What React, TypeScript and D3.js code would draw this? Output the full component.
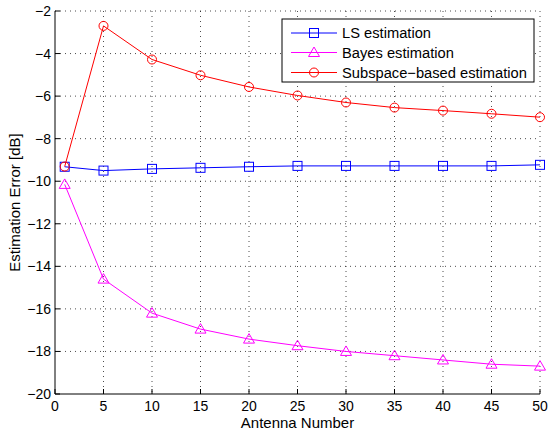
import React from "react";
import * as d3 from "d3";

const antennaNumbers = [1, 5, 10, 15, 20, 25, 30, 35, 40, 45, 50];
const lsValues = [-9.32, -9.5, -9.42, -9.37, -9.32, -9.28, -9.28, -9.28, -9.28, -9.28, -9.23];
const bayesValues = [-10.15, -14.6, -16.2, -16.95, -17.42, -17.73, -18.0, -18.2, -18.4, -18.6, -18.69];
const subspaceValues = [-9.31, -2.7, -4.28, -5.02, -5.57, -5.97, -6.3, -6.54, -6.68, -6.83, -6.99];

const xTicks = [0, 5, 10, 15, 20, 25, 30, 35, 40, 45, 50];
const yTicks = [-20, -18, -16, -14, -12, -10, -8, -6, -4, -2];

const seriesNames = ["LS estimation", "Bayes estimation", "Subspace\u2212based estimation"];
const seriesColors = ["#0000ff", "#ff00ff", "#ff0000"];
const seriesMarkers = ["square", "triangle", "circle"];
const seriesValues = [lsValues, bayesValues, subspaceValues];

const W = 551;
const H = 431;
const left = 55;
const right = 540;
const top = 11;
const bottom = 394;
const FONT = "'Liberation Sans', Arial, Helvetica, sans-serif";

function Marker({ kind, x, y, color }: { kind: string; x: number; y: number; color: string }) {
  if (kind === "square") {
    return <rect x={x - 4.5} y={y - 4.5} width={9} height={9} fill="none" stroke={color} strokeWidth={1} />;
  }
  if (kind === "triangle") {
    return (
      <path
        d={`M${x},${y - 5.5}L${x + 5.5},${y + 4}L${x - 5.5},${y + 4}Z`}
        fill="none"
        stroke={color}
        strokeWidth={1}
      />
    );
  }
  return <circle cx={x} cy={y} r={4.5} fill="none" stroke={color} strokeWidth={1} />;
}

const fmt = (v: number) => (v < 0 ? "\u2212" + Math.abs(v) : String(v));

export default function App() {
  const xScale = d3.scaleLinear().domain([0, 50]).range([left, right]);
  const yScale = d3.scaleLinear().domain([-20, -2]).range([bottom, top]);
  const line = d3
    .line<[number, number]>()
    .x((d) => xScale(d[0]))
    .y((d) => yScale(d[1]));

  const legX = 282;
  const legY = 19;
  const legW = 252;
  const legH = 63;
  const rowYs = [33, 52.5, 72.5];

  return (
    <svg
      width={W}
      height={H}
      style={{ position: "absolute", left: 0, top: 0, background: "#fff" }}
      fontFamily={FONT}
    >
      <rect x={0} y={0} width={W} height={H} fill="#fff" />
      {/* grid */}
      {xTicks
        .filter((t) => t !== 0)
        .map((t) => (
          <line
            key={"gx" + t}
            x1={xScale(t)}
            x2={xScale(t)}
            y1={top}
            y2={bottom}
            stroke="#000"
            strokeOpacity={0.7}
            strokeDasharray="1,4"
            strokeWidth={1}
          />
        ))}
      {yTicks
        .filter((t) => t !== -20)
        .map((t) => (
          <line
            key={"gy" + t}
            x1={left}
            x2={right}
            y1={yScale(t)}
            y2={yScale(t)}
            stroke="#000"
            strokeOpacity={0.7}
            strokeDasharray="1,4"
            strokeWidth={1}
          />
        ))}
      {/* axes */}
      <line x1={left} x2={left} y1={top} y2={bottom} stroke="#000" strokeWidth={1} />
      <line x1={left} x2={right} y1={bottom} y2={bottom} stroke="#000" strokeWidth={1} />
      {xTicks.map((t) => (
        <g key={"xt" + t}>
          <line x1={xScale(t)} x2={xScale(t)} y1={bottom} y2={bottom - 5} stroke="#000" />
          <text x={xScale(t)} y={411} textAnchor="middle" fontSize={14} fill="#000">
            {t}
          </text>
        </g>
      ))}
      {yTicks.map((t) => (
        <g key={"yt" + t}>
          <line x1={left} x2={left + 5} y1={yScale(t)} y2={yScale(t)} stroke="#000" />
          <text x={51} y={yScale(t) + 5} textAnchor="end" fontSize={14} fill="#000">
            {fmt(t)}
          </text>
        </g>
      ))}
      <text x={(left + right) / 2} y={428} textAnchor="middle" fontSize={15} fill="#000">
        Antenna Number
      </text>
      <text
        transform={`translate(20,${(top + bottom) / 2}) rotate(-90)`}
        textAnchor="middle"
        fontSize={15}
        fill="#000"
      >
        Estimation Error [dB]
      </text>
      {/* series */}
      {seriesValues.map((vals, i) => {
        const pts: [number, number][] = antennaNumbers.map((x, j) => [x, vals[j]]);
        return (
          <g key={"s" + i}>
            <path d={line(pts) || ""} fill="none" stroke={seriesColors[i]} strokeWidth={1} />
            {pts.map((p, j) => (
              <Marker
                key={j}
                kind={seriesMarkers[i]}
                x={xScale(p[0])}
                y={yScale(p[1])}
                color={seriesColors[i]}
              />
            ))}
          </g>
        );
      })}
      {/* legend */}
      <rect x={legX} y={legY} width={legW} height={legH} fill="#fff" stroke="#000" strokeWidth={1} />
      {seriesNames.map((name, i) => (
        <g key={"l" + i}>
          <line x1={291} x2={337} y1={rowYs[i]} y2={rowYs[i]} stroke={seriesColors[i]} strokeWidth={1} />
          <Marker kind={seriesMarkers[i]} x={314} y={rowYs[i]} color={seriesColors[i]} />
          <text x={342} y={rowYs[i] + 5} fontSize={14.7} fill="#000">
            {name}
          </text>
        </g>
      ))}
    </svg>
  );
}
